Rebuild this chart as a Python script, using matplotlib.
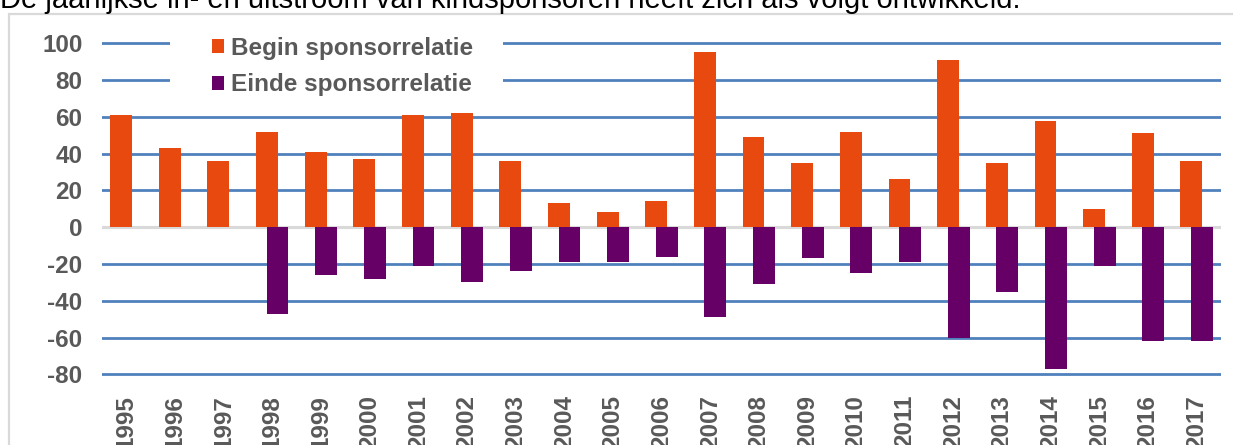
import matplotlib.pyplot as plt
from matplotlib.patches import Rectangle
import numpy as np

plt.rcParams['font.family'] = ['Liberation Sans', 'DejaVu Sans']
plt.rcParams['axes.unicode_minus'] = False

# Data
years = ['1995', '1996', '1997', '1998', '1999', '2000', '2001', '2002',
         '2003', '2004', '2005', '2006', '2007', '2008', '2009', '2010',
         '2011', '2012', '2013', '2014', '2015', '2016', '2017']
begin = [61, 43, 36, 52, 41, 37, 61, 62, 36, 13, 8, 14, 95, 49, 35, 52,
         26, 91, 35, 58, 10, 51, 36]
einde = [0, 0, 0, -47, -26, -28, -21, -30, -24, -19, -19, -16, -49, -31,
         -17, -25, -19, -60, -35, -77, -21, -62, -62]
y_ticks = [-80, -60, -40, -20, 0, 20, 40, 60, 80, 100]

ORANGE = '#E8490F'
PURPLE = '#660066'
GRID = '#4F81BD'
TXT = '#595959'

W, H = 1233, 445
fig = plt.figure(figsize=(W / 100, H / 100), dpi=100)

# title text partly cut off at top
fig.text(0.0, 1 - 8 / H,
         'De jaarlijkse in- en uitstroom van kindsponsoren heeft zich als volgt ontwikkeld.',
         fontsize=21, color='black', va='baseline', ha='left')

# light grey box around chart
fig.patches.append(Rectangle((9 / W, -0.1), 1.2, 1 - 14 / H + 0.1,
                             transform=fig.transFigure, fill=False,
                             edgecolor='#D9D9D9', lw=1.6))

# y range padded a little so the outer gridlines are not clipped
y0, y1 = -82, 102
px_per_unit = (374.3 - 43.3) / 180
top_px = 43.3 - (y1 - 100) * px_per_unit
bot_px = 374.3 + (-80 - y0) * px_per_unit
ax = fig.add_axes([102 / W, (H - bot_px) / H, (1221 - 102) / W, (bot_px - top_px) / H])
x = np.arange(len(years))
bw = 0.45
off = 0.108
ax.bar(x - off, begin, bw, color=ORANGE, zorder=3, label='Begin sponsorrelatie')
ax.bar(x + off, einde, bw, color=PURPLE, zorder=3, label='Einde sponsorrelatie')

ax.set_xlim(-0.5, len(years) - 0.5)
ax.set_ylim(y0, y1)
ax.set_yticks(y_ticks)
ax.set_xticks(x)
ax.set_xticklabels(years, rotation=90)
ax.yaxis.grid(True, color=GRID, lw=2, zorder=0)
ax.set_axisbelow(True)
ax.axhline(0, color='#D9D9D9', lw=2.2, zorder=2)

for s in ax.spines.values():
    s.set_visible(False)
ax.tick_params(axis='both', length=0, labelsize=17.5, labelcolor=TXT)
ax.tick_params(axis='y', pad=14)
ax.tick_params(axis='x', pad=12)
for lab in ax.get_xticklabels() + ax.get_yticklabels():
    lab.set_fontweight('bold')

# white area of the legend that hides the top gridlines
ax.add_patch(Rectangle((170 / W, 1 - 98 / H), (503 - 170) / W, 70 / H,
                       transform=fig.transFigure, facecolor='white',
                       edgecolor='none', zorder=5, clip_on=False))
leg = ax.legend(loc='upper left', bbox_to_anchor=(212 / W, 1 - 37 / H),
                bbox_transform=fig.transFigure, frameon=False,
                handlelength=0.5, handleheight=0.5, handletextpad=0.3,
                labelspacing=0.55, borderpad=0.0, borderaxespad=0,
                prop={'size': 17.5, 'weight': 'bold'})
leg.set_zorder(6)
for t in leg.get_texts():
    t.set_color(TXT)

fig.savefig('out.png', dpi=100)
